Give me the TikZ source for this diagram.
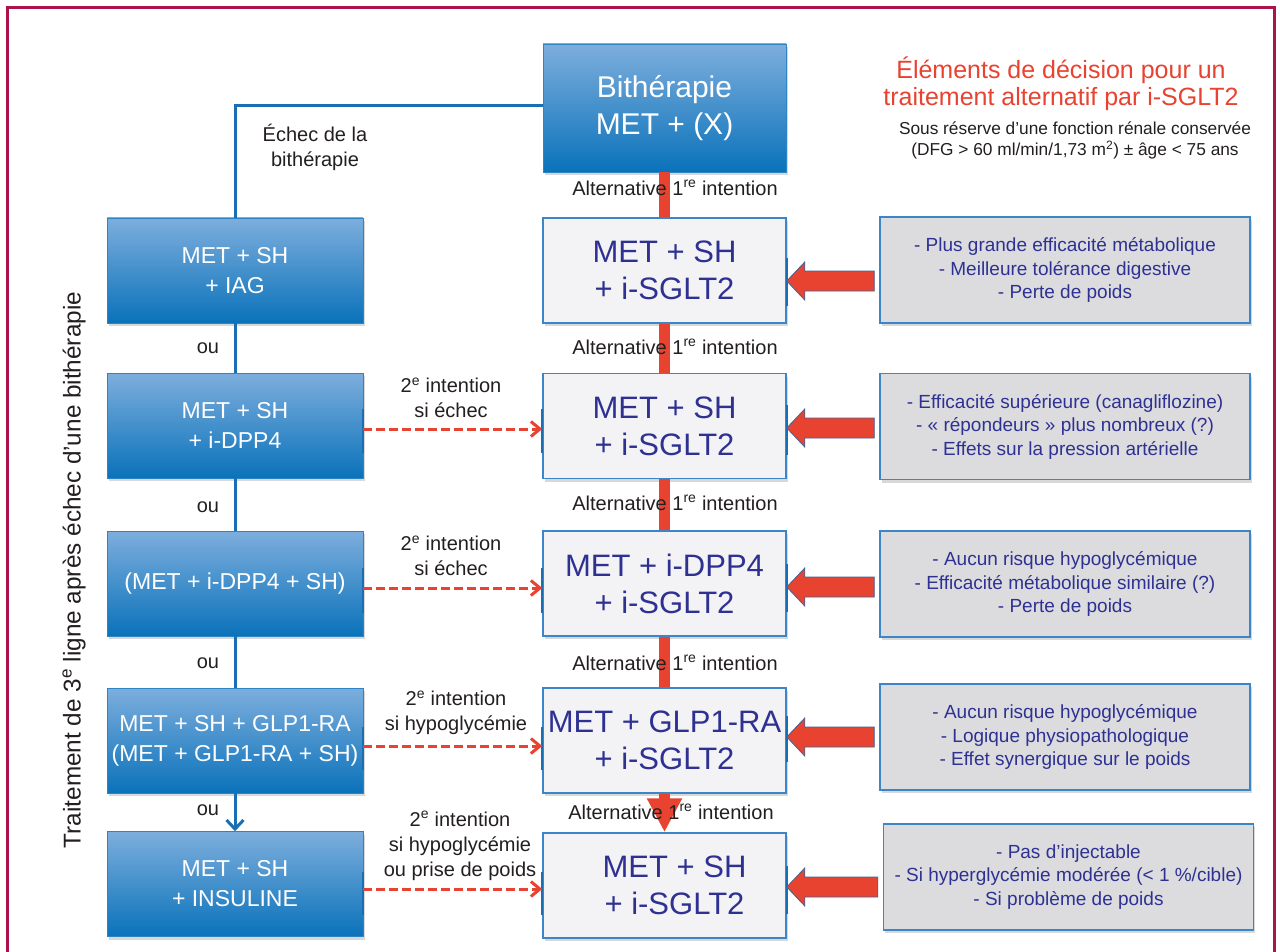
\documentclass[tikz,border=0pt]{standalone}
\usepackage{fontspec}
\setmainfont{Liberation Sans}
\usetikzlibrary{shadows,calc,arrows.meta}
\definecolor{framec}{RGB}{170,20,75}
\definecolor{bluetop}{RGB}{125,174,221}
\definecolor{bluebot}{RGB}{10,114,186}
\definecolor{bline}{RGB}{26,110,180}
\definecolor{indig}{RGB}{46,49,146}
\definecolor{redc}{RGB}{232,66,48}
\definecolor{grayfill}{RGB}{220,220,223}
\definecolor{lightfill}{RGB}{243,243,245}
\definecolor{boxedge}{RGB}{60,134,200}
\definecolor{txt}{RGB}{35,31,32}
\newcommand\fsz[2]{\fontsize{#1}{#2}\selectfont}
\newcommand\fatarr[2]{\draw[fatarrow] let \p1=(#1), \p2=(#2) in
  (\x1-5pt,\y1+10pt) -- (\x2+18pt,\y1+10pt) -- (\x2+18pt,\y1+19pt) -- (\x2,\y1)
  -- (\x2+18pt,\y1-19pt) -- (\x2+18pt,\y1-10pt) -- (\x1-5pt,\y1-10pt) -- cycle;}
\tikzset{
  shd/.style={drop shadow={opacity=0.3, shadow xshift=1.5pt, shadow yshift=-3pt}},
  bluebox/.style={shd, rectangle, top color=bluetop, bottom color=bluebot, draw=bluebot!70!bluetop, line width=0.6pt,
    minimum width=256pt, minimum height=105pt, inner sep=0pt, align=center, text=white, font=\fsz{23}{30}},
  midbox/.style={shd, rectangle, fill=lightfill, draw=boxedge, line width=1.5pt, minimum width=243pt,
    minimum height=105pt, inner sep=0pt, align=center, text=indig, font=\fsz{31}{37}},
  sidebox/.style={shd, rectangle, fill=grayfill, draw=boxedge, line width=1.5pt, minimum width=370pt,
    minimum height=106pt, inner sep=0pt, align=center, text=indig, font=\fsz{19}{23.5}},
  bconn/.style={draw=bline, line width=3pt},
  rbar/.style={draw=redc, line width=11pt},
  dasharr/.style={draw=redc, line width=3pt, dash pattern=on 9pt off 4pt, -{Straight Barb[length=9pt,width=15pt]}},
  lbl/.style={text=txt, font=\fsz{20}{25}, align=center, inner sep=0pt},
  tickm/.style={draw=bline, line width=2pt},
  fatarrow/.style={fill=redc, draw={rgb,255:red,70;green,100;blue,150}, line width=0.8pt}
}
\begin{document}
\begin{tikzpicture}[x=1pt,y=-1pt]
\useasboundingbox (0,0) rectangle (1280,952);
\fill[white] (0,0) rectangle (1280,952);
\draw[draw=framec, line width=3pt] (7.5,970) -- (7.5,7.5) -- (1274.5,7.5) -- (1274.5,970);

% title
\node[font=\fsz{25}{27.5}, text=redc, align=center] (T) at (1061,84) {Éléments de décision pour un\\traitement alternatif par i-SGLT2};
\node[font=\fsz{17.3}{21}, text=txt, align=center] (S) at (1075,140.5) {Sous réserve d'une fonction rénale conservée\\(DFG > 60 ml/min/1,73 m\textsuperscript{2}) ± âge < 75 ans};

% vertical label
\node[rotate=90, font=\fsz{24.3}{28}, text=txt] (V) at (74,570) {Traitement de 3\textsuperscript{e} ligne après échec d’une bithérapie};

% top box
\node[bluebox, minimum width=243pt, minimum height=128pt, font=\fsz{30}{37}] (B) at (664.5,108) {Bithérapie\\MET + (X)};

% left column
\node[bluebox] (L1) at (235,270.5) {MET + SH\\+ IAG};
\node[bluebox] (L2) at (235,425.5) {MET + SH\\+ i-DPP4};
\node[bluebox] (L3) at (235,583.5) {(MET + i-DPP4 + SH)};
\node[bluebox] (L4) at (235,740.5) {MET + SH + GLP1-RA\\(MET + GLP1-RA + SH)};
\node[bluebox] (L5) at (235,884) {MET + SH\\+ INSULINE};

% middle column
\node[midbox] (M1) at (664.5,270.5) {MET + SH\\+ i-SGLT2};
\node[midbox] (M2) at (664.5,426) {MET + SH\\+ i-SGLT2};
\node[midbox] (M3) at (664.5,583.5) {MET + i-DPP4\\+ i-SGLT2};
\node[midbox] (M4) at (664.5,740.5) {MET + GLP1-RA\\+ i-SGLT2};
\node[midbox, minimum height=105pt] (M5) at (664.5,885.5) {\hspace*{20pt}MET + SH\\\hspace*{20pt}+ i-SGLT2};

% right column
\node[sidebox] (R1) at (1065,270) {- Plus grande efficacité métabolique\\- Meilleure tolérance digestive\\- Perte de poids};
\node[sidebox] (R2) at (1065,426.5) {- Efficacité supérieure (canagliflozine)\\- « répondeurs » plus nombreux (?)\\- Effets sur la pression artérielle};
\node[sidebox] (R3) at (1065,584) {- Aucun risque hypoglycémique\\- Efficacité métabolique similaire (?)\\- Perte de poids};
\node[sidebox] (R4) at (1065,737) {- Aucun risque hypoglycémique\\- Logique physiopathologique\\- Effet synergique sur le poids};
\node[sidebox] (R5) at (1068.5,877) {- Pas d’injectable\\- Si hyperglycémie modérée (< 1 \%/cible)\\- Si problème de poids};

% blue connectors
\draw[bconn] (B.west |- 0,106) -| (L1.north);
\draw[bconn] (L1.south) -- (L2.north);
\draw[bconn] (L2.south) -- (L3.north);
\draw[bconn] (L3.south) -- (L4.north);
\draw[bconn, -{Straight Barb[length=9pt,width=17pt]}] (L4.south) -- (L5.north);
\node[lbl] (E) at (315,147) {\fsz{20}{24}Échec de la\\bithérapie};
\node[lbl] (ou1) at (208,348) {ou};
\node[lbl] (ou2) at (208,507) {ou};
\node[lbl] (ou3) at (208,663) {ou};
\node[lbl] (ou4) at (208,810) {ou};

% red bars
\draw[rbar] (B.south) -- (M1.north);
\draw[rbar] (M1.south) -- (M2.north);
\draw[rbar] (M2.south) -- (M3.north);
\draw[rbar] (M3.south) -- (M4.north);
\draw[rbar, -{Triangle[length=34pt,width=33pt]}] (M4.south) -- (M5.north);
\node[lbl] (A1) at (675,188) {Alternative 1\textsuperscript{re} intention};
\node[lbl] (A2) at (675,347) {Alternative 1\textsuperscript{re} intention};
\node[lbl] (A3) at (675,503) {Alternative 1\textsuperscript{re} intention};
\node[lbl] (A4) at (675,663) {Alternative 1\textsuperscript{re} intention};
\node[lbl] (A5) at (671,812) {Alternative 1\textsuperscript{re} intention};

% ticks
\foreach \n/\a/\b in {2/409/453, 3/568/613, 4/727/770, 5/872/915}{
  \draw[tickm] (L\n.east |- 0,\a) -- (L\n.east |- 0,\b);
  \draw[tickm] (M\n.west |- 0,\a) -- (M\n.west |- 0,\b);
}
\foreach \n/\a/\b in {1/258/306, 2/405/455, 3/564/612, 4/716/762, 5/866/914}{
  \draw[tickm] (M\n.east |- 0,\a) -- (M\n.east |- 0,\b);
}

% dashed arrows
\draw[dasharr] (L2.east |- 0,429) -- (M2.west |- 0,429);
\draw[dasharr] (L3.east |- 0,588) -- (M3.west |- 0,588);
\draw[dasharr] (L4.east |- 0,746) -- (M4.west |- 0,746);
\draw[dasharr] (L5.east |- 0,889) -- (M5.west |- 0,889);
\node[lbl] (D2) at (451,398) {2\textsuperscript{e} intention\\si échec};
\node[lbl] (D3) at (451,556) {2\textsuperscript{e} intention\\si échec};
\node[lbl] (D4) at (456,713) {2\textsuperscript{e} intention\\si hypoglycémie};
\node[lbl] (D5) at (460,846) {2\textsuperscript{e} intention\\si hypoglycémie\\ou prise de poids};

% fat arrows
\fatarr{R1.west |- 0,281}{M1.east |- 0,281}
\fatarr{R2.west |- 0,428}{M2.east |- 0,428}
\fatarr{R3.west |- 0,587}{M3.east |- 0,587}
\fatarr{R4.west |- 0,737}{M4.east |- 0,737}
\fatarr{R5.west |- 0,887}{M5.east |- 0,887}
\end{tikzpicture}
\end{document}
